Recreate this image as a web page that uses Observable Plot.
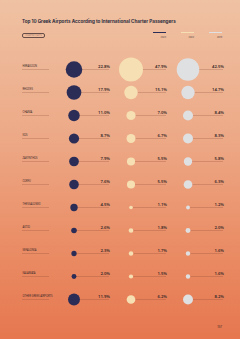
<!DOCTYPE html>
<html>
<head>
<meta charset="utf-8">
<script src="https://cdn.jsdelivr.net/npm/d3@7"></script>
<script src="https://cdn.jsdelivr.net/npm/@observablehq/plot@0.6"></script>
<style>
  html, body { margin: 0; padding: 0; }
  body {
    width: 240px; height: 339px; position: relative; overflow: hidden;
    background: linear-gradient(180deg, #efc2a3 0%, #eda987 40%, #ea8f68 70%, #e6774f 100%);
    font-family: Inter, "Noto Sans", sans-serif;
  }
  .abs { position: absolute; }
  #title { left: 22px; top: 19px; font-size: 4.6px; font-weight: 700; color: #2b2b3d; white-space: nowrap; }
  #pill { left: 22px; top: 32.5px; width: 21px; height: 3px; border: 0.4px solid rgba(70,50,50,0.8); border-radius: 2px;
          font-size: 1.6px; line-height: 3px; text-align: center; color: rgba(70,50,50,0.7); letter-spacing: 0.1px; }
  .lg { position: absolute; top: 32px; width: 13px; height: 1.2px; }
  .lgl { position: absolute; top: 35.5px; width: 13px; font-size: 2.2px; text-align: right; color: #4a3a3a; }
  #page { right: 18px; top: 325px; font-size: 3px; color: #3a2a2a; }
  svg { position: absolute; top: 0; }
</style>
</head>
<body>
<script>
const title = "Top 10 Greek Airports According to International Charter Passengers";
const tag = "CHARTER FLIGHTS";
const pageNumber = "157";
const airports = ["HERAKLION", "RHODES", "CHANIA", "KOS", "ZAKYNTHOS", "CORFU", "THESSALONIKI", "AKTIO", "KEFALONIA", "KALAMATA", "OTHER GREEK AIRPORTS"];
const series = ["2023", "2022", "2019"];
const values2023 = [22.8, 17.9, 11.0, 8.7, 7.9, 7.6, 4.5, 2.6, 2.3, 2.0, 11.9];
const values2022 = [47.9, 15.1, 7.0, 6.7, 5.5, 5.5, 1.1, 1.8, 1.7, 1.5, 6.2];
const values2019 = [42.5, 14.7, 8.4, 8.3, 5.8, 6.3, 1.2, 2.0, 1.6, 1.6, 8.2];
const colors = ["#2b2d57", "#f6dfb2", "#dfe0e2"];

const valuesBySeries = [values2023, values2022, values2019];
const data = [];
series.forEach((s, i) => airports.forEach((a, j) => data.push({series: s, airport: a, value: valuesBySeries[i][j]})));

// HTML header
const add = (html) => document.body.insertAdjacentHTML("beforeend", html);
add(`<div id="title" class="abs">${title}</div>`);
add(`<div id="pill" class="abs">${tag}</div>`);
const legendRight = [166, 194, 222];
series.forEach((s, i) => {
  add(`<div class="lg" style="left:${legendRight[i] - 13}px;background:${colors[i]}"></div>`);
  add(`<div class="lgl" style="left:${legendRight[i] - 13}px">${s}</div>`);
});
add(`<div id="page" class="abs">${pageNumber}</div>`);

const yScale = {type: "point", domain: airports, range: [57, 310]};
const lineColor = "rgba(120,60,40,0.45)";

// Label column
const labels = Plot.plot({
  width: 60, height: 339, marginLeft: 22, marginRight: 11, marginTop: 0, marginBottom: 0,
  style: {background: "transparent", overflow: "visible"},
  x: {axis: null}, y: {...yScale, axis: null},
  marks: [
    Plot.ruleY(airports, {y: d => d, stroke: lineColor, strokeWidth: 0.5}),
    Plot.text(airports, {y: d => d, text: d => d, frameAnchor: "left", dy: -3, fontSize: 2.6, fill: "#3a2a2a", letterSpacing: 0.2})
  ]
});
labels.style.left = "0px";
document.body.appendChild(labels);

// Data columns
const chart = Plot.plot({
  width: 240, height: 339, margin: 0,
  style: {background: "transparent", overflow: "visible"},
  x: {type: "band", domain: series, range: [74, 226], paddingInner: 0.379, paddingOuter: 0, align: 0, axis: null},
  y: {...yScale, axis: null},
  r: {domain: [0, 47.9], range: [0, 12]},
  color: {domain: series, range: colors},
  marks: [
    Plot.tickY(data, {x: "series", y: "airport", stroke: lineColor, strokeWidth: 0.5}),
    Plot.dot(data, {x: "series", y: "airport", r: "value", fill: "series", dx: -18}),
    Plot.text(data, {x: "series", y: "airport", text: d => d.value.toFixed(1) + "%", textAnchor: "end", dx: 18, dy: -3, fontSize: 4.2, fontWeight: 600, fill: "#3a2a2a"})
  ]
});
chart.style.left = "0px";
document.body.appendChild(chart);
</script>
</body>
</html>
